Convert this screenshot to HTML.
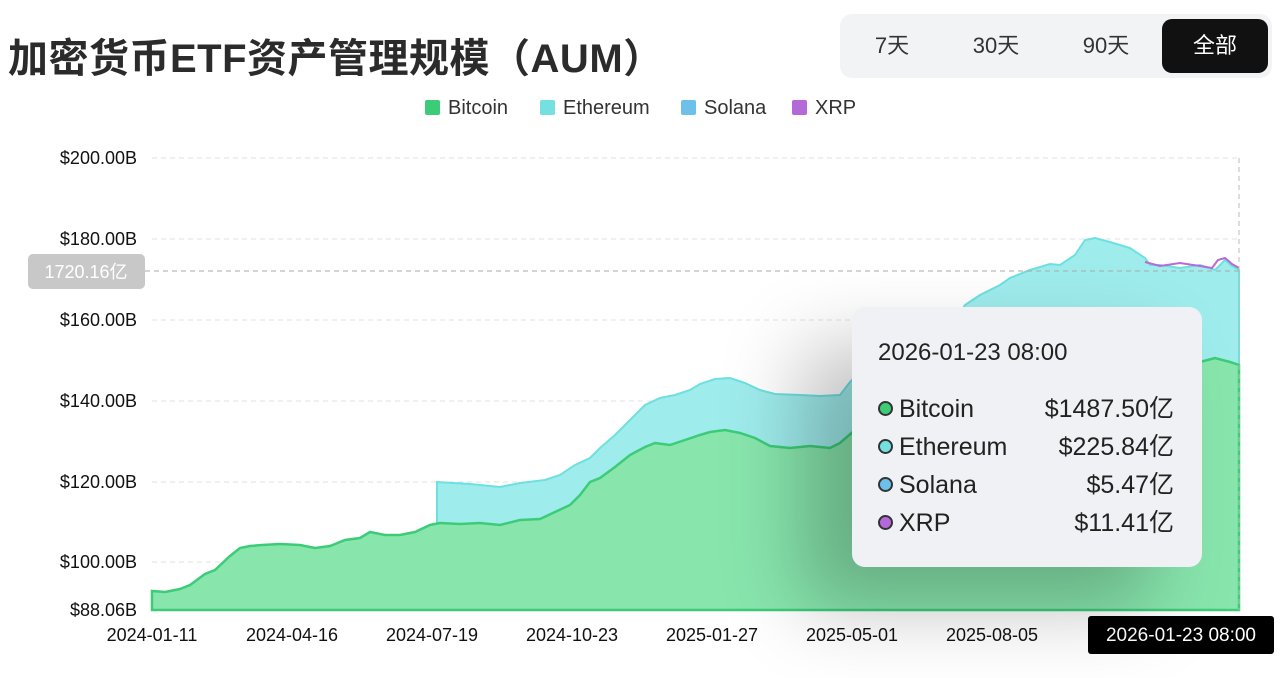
<!DOCTYPE html>
<html><head><meta charset="utf-8"><style>
body{margin:0;width:1280px;height:678px;background:#fff;font-family:"Liberation Sans","Noto Sans CJK SC",sans-serif;overflow:hidden;position:relative}
.t{position:absolute;left:8px;top:26px;font-size:40px;font-weight:bold;color:#2b2b2b;letter-spacing:0.5px}
.bar{position:absolute;left:840px;top:14px;width:432px;height:64px;background:#f2f3f5;border-radius:12px}
.bar span{position:absolute;top:5px;height:54px;line-height:54px;font-size:22px;color:#333;text-align:center;width:100px}
.act{background:#111;color:#fff!important;border-radius:10px;width:106px!important}
.lg{position:absolute;top:97px;font-size:20px;color:#333}
.lg i{display:inline-block;width:15px;height:15px;vertical-align:-1px;margin-right:8px;border-radius:2px}
.tt{position:absolute;left:852px;top:307px;width:350px;height:260px;background:#f0f1f4;border-radius:13px;box-shadow:-50px 40px 80px rgba(0,0,0,.25)}
.row{position:absolute;left:26px;width:296px;font-size:25px;color:#222;height:30px;line-height:30px}
.row b{font-weight:normal;position:absolute;right:0;top:0}
.row i{display:inline-block;width:11px;height:11px;border:2.5px solid #333;border-radius:50%;margin-right:6px;vertical-align:1px}
</style></head><body>
<div class="t">加密货币ETF资产管理规模（AUM）</div>
<div class="bar"><span style="left:2px">7天</span><span style="left:106px">30天</span><span style="left:216px">90天</span><span class="act" style="left:322px">全部</span></div>
<div class="lg" style="left:425px"><i style="background:#3ccc78"></i>Bitcoin</div>
<div class="lg" style="left:540px"><i style="background:#74e0e0"></i>Ethereum</div>
<div class="lg" style="left:681px"><i style="background:#6cc0ea"></i>Solana</div>
<div class="lg" style="left:792px"><i style="background:#b36ad8"></i>XRP</div>
<svg width="1280" height="678" style="position:absolute;left:0;top:0" font-family="Liberation Sans, sans-serif">
<g stroke="#e2e2e2" stroke-dasharray="5,4" stroke-width="1">
<line x1="152" x2="1239" y1="158" y2="158"/><line x1="152" x2="1239" y1="239" y2="239"/><line x1="152" x2="1239" y1="320" y2="320"/><line x1="152" x2="1239" y1="401" y2="401"/><line x1="152" x2="1239" y1="482" y2="482"/><line x1="152" x2="1239" y1="562" y2="562"/>
</g>
<g font-size="18" fill="#111" text-anchor="end">
<text x="137" y="164">$200.00B</text><text x="137" y="245">$180.00B</text><text x="137" y="326">$160.00B</text><text x="137" y="407">$140.00B</text><text x="137" y="488">$120.00B</text><text x="137" y="568">$100.00B</text><text x="137" y="616">$88.06B</text>
</g>
<path d="M437,482 470,484 500,487 520,483 545,480 560,475 575,465 590,458 600,448 615,435 630,420 645,405 660,398 675,395 690,390 700,384 715,379 730,378 745,383 760,390 775,394 800,395 820,396 840,395 850,382 860,372 900,350 950,330 965,305 980,295 1000,285 1010,278 1030,270 1050,264 1060,265 1075,255 1085,240 1095,238 1110,242 1130,248 1145,258 1150,265 1160,265 1180,268 1200,265 1215,270 1225,260 1232,266 1239,270 L1239,610 437,610Z" fill="#9fecec" stroke="#6ee0e0" stroke-width="2"/>
<path d="M1145,262 1160,266 1180,263 1200,266 1212,268 1218,260 1225,258 1232,264 1239,268" fill="none" stroke="#b86ad8" stroke-width="2"/>
<path d="M152,591 165,592 180,589 190,585 205,574 215,570 230,556 240,548 250,546 262,545 280,544 300,545 315,548 330,546 345,540 360,538 370,532 385,535 400,535 415,532 430,525 440,523 460,524 480,523 500,525 520,520 540,519 555,512 570,505 580,495 590,482 600,478 615,467 630,455 645,447 655,443 670,445 685,440 700,435 710,432 725,430 740,433 755,438 770,446 790,448 810,446 830,448 840,443 855,430 870,425 950,420 1000,410 1050,395 1100,380 1150,368 1200,362 1215,358 1230,362 1239,365 L1239,610 152,610Z" fill="#88e6ad" stroke="#3ccc78" stroke-width="2.5"/>
<line x1="1239" x2="1239" y1="158" y2="610" stroke="#bbb" stroke-dasharray="5,4"/>
<line x1="145" x2="1239" y1="271" y2="271" stroke="#aaa" stroke-dasharray="5,4"/>
<rect x="28" y="254" width="117" height="35" rx="5" fill="#c8c8c8"/>
<text x="86" y="278" font-size="18" fill="#fff" text-anchor="middle" font-family="Liberation Sans, Noto Sans CJK SC, sans-serif">1720.16亿</text>
<g font-size="18" fill="#111" text-anchor="middle">
<text x="152" y="641">2024-01-11</text><text x="292" y="641">2024-04-16</text><text x="432" y="641">2024-07-19</text><text x="572" y="641">2024-10-23</text><text x="712" y="641">2025-01-27</text><text x="852" y="641">2025-05-01</text><text x="992" y="641">2025-08-05</text><text x="1130" y="641">2025</text>
</g>
<rect x="1088" y="616" width="186" height="38" rx="3" fill="#000"/>
<text x="1181" y="641" font-size="19" fill="#fff" text-anchor="middle">2026-01-23 08:00</text>
</svg>
<div class="tt">
<div class="row" style="top:31px;font-size:24px">2026-01-23 08:00</div>
<div class="row" style="top:87px"><i style="background:#3ccc78"></i>Bitcoin<b>$1487.50亿</b></div>
<div class="row" style="top:125px"><i style="background:#74e0e0"></i>Ethereum<b>$225.84亿</b></div>
<div class="row" style="top:163px"><i style="background:#6cc0ea"></i>Solana<b>$5.47亿</b></div>
<div class="row" style="top:201px"><i style="background:#b36ad8"></i>XRP<b>$11.41亿</b></div>
</div>
</body></html>
